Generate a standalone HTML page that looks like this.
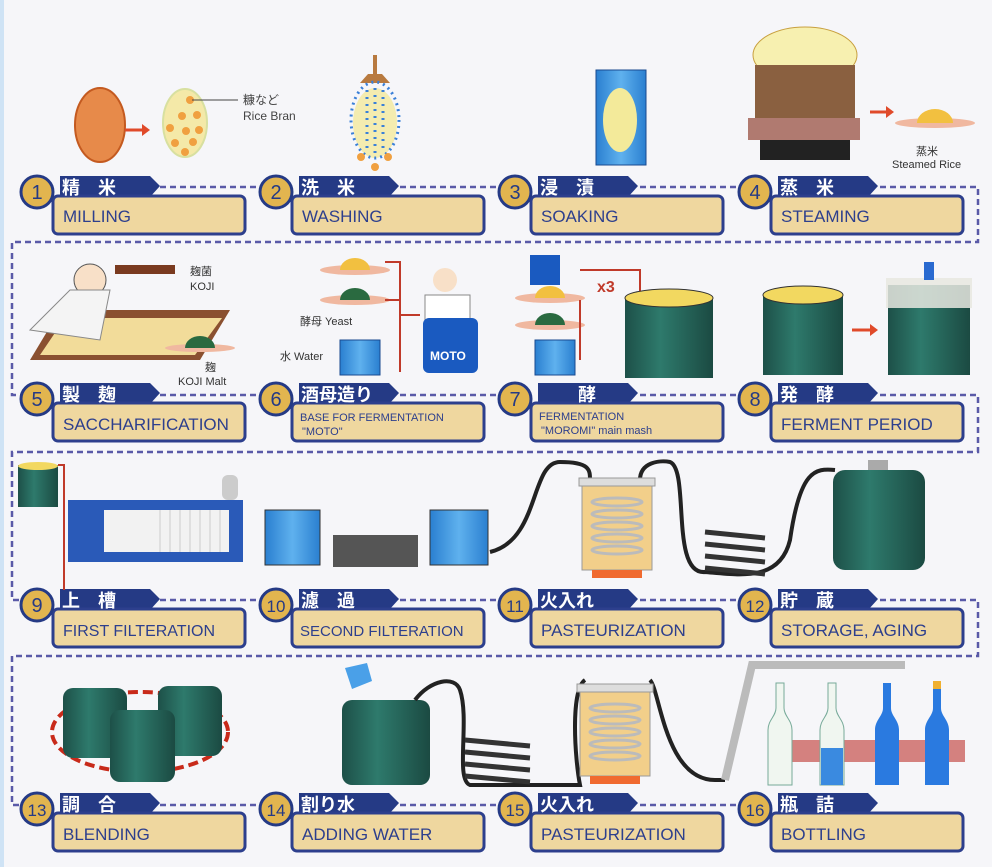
<!DOCTYPE html>
<html><head><meta charset="utf-8"><style>
html,body{margin:0;padding:0;background:#f6f6f9;}
svg{display:block}
text{font-family:"Liberation Sans","Noto Sans CJK JP",sans-serif;}
</style></head><body>
<svg width="992" height="867" viewBox="0 0 992 867" xmlns="http://www.w3.org/2000/svg">
<defs>
<linearGradient id="tank" x1="0" x2="1"><stop offset="0" stop-color="#1d5048"/><stop offset=".4" stop-color="#2e7a6c"/><stop offset="1" stop-color="#1b4a42"/></linearGradient>
<linearGradient id="water" x1="0" x2="1"><stop offset="0" stop-color="#2a7fd0"/><stop offset=".5" stop-color="#5fb1ee"/><stop offset="1" stop-color="#2a7fd0"/></linearGradient>
<g id="lbl">
<path d="M40 1 H130 L140 11 L130 22 H40 Z" fill="#253a85"/>
<rect x="33" y="21" width="192" height="38" rx="5" fill="#efd79f" stroke="#2d3f8d" stroke-width="3"/>
<circle cx="17" cy="17" r="16" fill="#e2b54f" stroke="#253a85" stroke-width="3"/>
</g>
<g id="past">
<rect x="0" y="0" width="70" height="88" fill="#f2cf8a" stroke="#999"/>
<rect x="-3" y="-4" width="76" height="8" fill="#ddd" stroke="#999"/>
<g fill="none" stroke="#bbb" stroke-width="3"><ellipse cx="35" cy="20" rx="25" ry="4"/><ellipse cx="35" cy="32" rx="25" ry="4"/><ellipse cx="35" cy="44" rx="25" ry="4"/><ellipse cx="35" cy="56" rx="25" ry="4"/><ellipse cx="35" cy="68" rx="25" ry="4"/></g>
<rect x="10" y="88" width="50" height="8" fill="#f06a30"/>
</g>
<g id="bottle"><path d="M0 80v-55c0-10 8-14 8-22v-25h8v25c0 8 8 12 8 22v55z"/></g>
</defs>
<rect x="0" y="0" width="4" height="867" fill="#cfe3f5"/>
<g fill="none" stroke="#5a5aa8" stroke-width="2.5" stroke-dasharray="6,4">
<path d="M160 187H262M400 187H500M640 187H740M880 187H978V242H12V395H22"/>
<path d="M160 395H262M400 395H500M640 395H740M880 395H978V452H12V600H22"/>
<path d="M160 600H262M400 600H500M640 600H740M880 600H978V656H12V805H22"/>
<path d="M160 805H262M400 805H500M640 805H740"/>
</g>
<g>
<use href="#lbl" x="20" y="175"/><use href="#lbl" x="259" y="175"/><use href="#lbl" x="498" y="175"/><use href="#lbl" x="738" y="175"/>
<use href="#lbl" x="20" y="382"/><use href="#lbl" x="259" y="382"/><use href="#lbl" x="498" y="382"/><use href="#lbl" x="738" y="382"/>
<use href="#lbl" x="20" y="588"/><use href="#lbl" x="259" y="588"/><use href="#lbl" x="498" y="588"/><use href="#lbl" x="738" y="588"/>
<use href="#lbl" x="20" y="792"/><use href="#lbl" x="259" y="792"/><use href="#lbl" x="498" y="792"/><use href="#lbl" x="738" y="792"/>
</g>
<g font-size="20" fill="#253a85" text-anchor="middle">
<text x="37" y="199">1</text><text x="276" y="199">2</text><text x="515" y="199">3</text><text x="755" y="199">4</text>
<text x="37" y="406">5</text><text x="276" y="406">6</text><text x="515" y="406">7</text><text x="755" y="406">8</text>
<text x="37" y="612">9</text><text x="276" y="612" font-size="17">10</text><text x="515" y="612" font-size="17">11</text><text x="755" y="612" font-size="17">12</text>
<text x="37" y="816" font-size="17">13</text><text x="276" y="816" font-size="17">14</text><text x="515" y="816" font-size="17">15</text><text x="755" y="816" font-size="17">16</text>
</g>
<g font-size="18" fill="#fff" font-weight="bold">
<text x="62" y="194">精　米</text><text x="301" y="194">洗　米</text><text x="540" y="194">浸　漬</text><text x="780" y="194">蒸　米</text>
<text x="62" y="401">製　麹</text><text x="301" y="401">酒母造り</text><text x="560" y="401">　酵</text><text x="780" y="401">発　酵</text>
<text x="62" y="607">上　槽</text><text x="301" y="607">濾　過</text><text x="540" y="607">火入れ</text><text x="780" y="607">貯　蔵</text>
<text x="62" y="811">調　合</text><text x="301" y="811">割り水</text><text x="540" y="811">火入れ</text><text x="780" y="811">瓶　詰</text>
</g>
<g font-size="17" fill="#2d3f8d">
<text x="63" y="222">MILLING</text><text x="302" y="222">WASHING</text><text x="541" y="222">SOAKING</text><text x="781" y="222">STEAMING</text>
<text x="63" y="430">SACCHARIFICATION</text>
<text x="300" y="421" font-size="11">BASE FOR FERMENTATION</text><text x="302" y="435" font-size="11">"MOTO"</text>
<text x="539" y="420" font-size="11">FERMENTATION</text><text x="541" y="434" font-size="11">"MOROMI" main mash</text>
<text x="781" y="430">FERMENT PERIOD</text>
<text x="63" y="636" font-size="16">FIRST FILTERATION</text><text x="300" y="636" font-size="15">SECOND FILTERATION</text><text x="541" y="636">PASTEURIZATION</text><text x="781" y="636">STORAGE, AGING</text>
<text x="63" y="840">BLENDING</text><text x="302" y="840">ADDING WATER</text><text x="541" y="840">PASTEURIZATION</text><text x="781" y="840">BOTTLING</text>
</g>
<!-- row1 -->
<ellipse cx="100" cy="125" rx="25" ry="37" fill="#e78a4a" stroke="#c45a20" stroke-width="2"/>
<path d="M125 130h18" stroke="#e04a2a" stroke-width="3"/><path d="M142 124l8 6-8 6z" fill="#e04a2a"/>
<ellipse cx="185" cy="123" rx="22" ry="34" fill="#f4e9a8" stroke="#d8e0a0" stroke-width="2"/>
<g fill="#f0a040"><circle cx="190" cy="100" r="4"/><circle cx="182" cy="116" r="4"/><circle cx="197" cy="115" r="4"/><circle cx="170" cy="128" r="4"/><circle cx="186" cy="131" r="4"/><circle cx="199" cy="130" r="4"/><circle cx="175" cy="143" r="4"/><circle cx="193" cy="142" r="4"/><circle cx="185" cy="152" r="4"/></g>
<path d="M192 100H238" stroke="#444" stroke-width="1"/>
<text x="243" y="104" font-size="12" fill="#444">糠など</text><text x="243" y="120" font-size="12" fill="#444">Rice Bran</text>
<rect x="373" y="55" width="4" height="20" fill="#b87a40"/><path d="M360 83l8-9h14l8 9z" fill="#b87a40"/>
<ellipse cx="375" cy="123" rx="22" ry="35" fill="#f4ecb0"/>
<ellipse cx="375" cy="120" rx="24" ry="38" fill="none" stroke="#3a80d8" stroke-width="3" stroke-dasharray="2,4"/>
<g stroke="#3a80d8" stroke-width="3" stroke-dasharray="2,5"><path d="M367 90v60M375 88v65M383 90v60"/></g>
<g fill="#f0a040"><circle cx="361" cy="157" r="4"/><circle cx="388" cy="157" r="4"/><circle cx="375" cy="167" r="4"/></g>
<rect x="596" y="70" width="50" height="95" fill="url(#water)" stroke="#1a4a90"/>
<ellipse cx="620" cy="120" rx="17" ry="32" fill="#f3ea9a"/>
<ellipse cx="805" cy="55" rx="52" ry="28" fill="#f7f0b0" stroke="#c8a040"/>
<rect x="755" y="65" width="100" height="55" fill="#8a6040"/>
<rect x="748" y="118" width="112" height="22" fill="#b07a70"/>
<rect x="760" y="140" width="90" height="20" fill="#222"/>
<path d="M870 112h16" stroke="#e04a2a" stroke-width="3"/><path d="M886 106l8 6-8 6z" fill="#e04a2a"/>
<ellipse cx="935" cy="123" rx="40" ry="5" fill="#f0b8a0"/><path d="M917 123a18 14 0 0 1 36 0z" fill="#f2c040"/>
<text x="916" y="155" font-size="11" fill="#333">蒸米</text><text x="892" y="168" font-size="11" fill="#333">Steamed Rice</text>
<!-- row2 -->
<path d="M30 360L60 310H230L200 360Z" fill="#8a5030"/><path d="M40 355L65 318H222L195 355Z" fill="#f2dc9a"/>
<circle cx="90" cy="280" r="16" fill="#f8e0c8" stroke="#555"/><path d="M30 330L70 290H110L100 340Z" fill="#f4f4f4" stroke="#888"/>
<rect x="115" y="265" width="60" height="9" fill="#7a3a20"/>
<text x="190" y="275" font-size="11" fill="#333">麹菌</text><text x="190" y="290" font-size="11" fill="#333">KOJI</text>
<ellipse cx="200" cy="348" rx="35" ry="4" fill="#f0b8a0"/><path d="M185 348a15 12 0 0 1 30 0z" fill="#2a6a40"/>
<text x="205" y="371" font-size="11" fill="#333">麹</text><text x="178" y="385" font-size="11" fill="#333">KOJI Malt</text>
<ellipse cx="355" cy="270" rx="35" ry="5" fill="#f0b8a0"/><path d="M340 270a15 12 0 0 1 30 0z" fill="#f2c040"/>
<ellipse cx="355" cy="300" rx="35" ry="5" fill="#f0b8a0"/><path d="M340 300a15 12 0 0 1 30 0z" fill="#2a6a40"/>
<path d="M385 262h15v110M385 300h15M400 315h20" fill="none" stroke="#c03a2a" stroke-width="2"/>
<text x="300" y="325" font-size="11" fill="#333">酵母 Yeast</text><text x="280" y="360" font-size="11" fill="#333">水 Water</text>
<rect x="340" y="340" width="40" height="35" fill="url(#water)" stroke="#1a4a90"/>
<circle cx="445" cy="280" r="12" fill="#f8e0c8"/><path d="M425 295h45v30h-45z" fill="#fff" stroke="#888"/>
<rect x="423" y="318" width="55" height="55" rx="6" fill="#1a5ac0"/><text x="430" y="360" font-size="12" fill="#fff" font-weight="bold">MOTO</text>
<rect x="530" y="255" width="30" height="30" fill="#1a5ac0"/>
<ellipse cx="550" cy="298" rx="35" ry="5" fill="#f0b8a0"/><path d="M535 298a15 12 0 0 1 30 0z" fill="#f2c040"/>
<ellipse cx="550" cy="325" rx="35" ry="5" fill="#f0b8a0"/><path d="M535 325a15 12 0 0 1 30 0z" fill="#2a6a40"/>
<rect x="535" y="340" width="40" height="35" fill="url(#water)" stroke="#1a4a90"/>
<text x="597" y="292" font-size="16" font-weight="bold" fill="#c03a2a">x3</text>
<path d="M580 270h60v30M580 300v60" fill="none" stroke="#c03a2a" stroke-width="2"/>
<rect x="625" y="298" width="88" height="80" fill="url(#tank)"/><ellipse cx="669" cy="298" rx="44" ry="9" fill="#f2d860" stroke="#333"/>
<rect x="763" y="295" width="80" height="80" fill="url(#tank)"/><ellipse cx="803" cy="295" rx="40" ry="9" fill="#f2d860" stroke="#333"/>
<path d="M852 330h18" stroke="#e04a2a" stroke-width="3"/><path d="M870 324l8 6-8 6z" fill="#e04a2a"/>
<rect x="888" y="285" width="82" height="90" fill="url(#tank)"/><rect x="886" y="278" width="86" height="30" fill="#e8e8e0" opacity=".85"/>
<rect x="924" y="262" width="10" height="18" fill="#2a6ad0"/>
<!-- row3 -->
<rect x="18" y="465" width="40" height="42" fill="url(#tank)"/><ellipse cx="38" cy="466" rx="20" ry="4" fill="#f2d860"/><path d="M58 465h6v125" fill="none" stroke="#c03a2a" stroke-width="2"/>
<rect x="68" y="500" width="175" height="62" fill="#2a5ab8"/><rect x="104" y="510" width="125" height="42" fill="#f2f2f2"/>
<g stroke="#ccc"><path d="M160 510v42M170 510v42M180 510v42M190 510v42M200 510v42M210 510v42M220 510v42"/></g>
<rect x="222" y="475" width="16" height="25" rx="6" fill="#ccc"/>
<rect x="265" y="510" width="55" height="55" fill="url(#water)" stroke="#333"/>
<rect x="333" y="535" width="85" height="32" fill="#555"/>
<rect x="430" y="510" width="58" height="55" fill="url(#water)" stroke="#333"/>
<path d="M490 552C540 540 530 462 560 462C590 462 590 470 590 480M640 480C640 462 660 460 670 462C690 470 670 575 705 572C740 575 780 582 790 540C800 470 815 468 835 470" fill="none" stroke="#222" stroke-width="4"/>
<use href="#past" x="582" y="482"/>
<g stroke="#333" stroke-width="5"><path d="M705 532l60 6M705 544l60 6M705 556l60 6M705 568l60 6"/></g>
<rect x="833" y="470" width="92" height="100" rx="12" fill="url(#tank)"/><rect x="868" y="460" width="20" height="10" fill="#aaa"/>
<!-- row4 -->
<ellipse cx="140" cy="732" rx="88" ry="40" fill="none" stroke="#c82a1a" stroke-width="4" stroke-dasharray="10,5"/>
<rect x="63" y="688" width="64" height="70" rx="10" fill="url(#tank)"/>
<rect x="158" y="686" width="64" height="70" rx="10" fill="url(#tank)"/>
<rect x="110" y="710" width="65" height="72" rx="10" fill="url(#tank)"/>
<rect x="342" y="700" width="88" height="85" rx="10" fill="url(#tank)"/>
<path d="M345 668l22-5 5 18-20 8z" fill="#4aa0e8"/>
<path d="M415 700C430 680 455 675 460 690C470 720 455 780 470 785H580C575 760 570 690 585 680M650 680C660 690 665 780 715 780L725 780" fill="none" stroke="#222" stroke-width="4"/>
<g stroke="#333" stroke-width="5"><path d="M465 740l65 6M465 752l65 6M465 764l65 6M465 776l65 6"/></g>
<use href="#past" x="580" y="688"/>
<path d="M725 780L752 665H905" fill="none" stroke="#bbb" stroke-width="8"/>
<rect x="785" y="740" width="180" height="22" fill="#c85a55" opacity=".75"/>
<use href="#bottle" x="768" y="705" fill="#f0f6f0" stroke="#7a9"/>
<use href="#bottle" x="820" y="705" fill="#f0f6f0" stroke="#7a9"/>
<rect x="821" y="748" width="22" height="37" fill="#3a8ae0"/>
<use href="#bottle" x="875" y="705" fill="#2a7ae0"/>
<use href="#bottle" x="925" y="705" fill="#2a7ae0"/>
<rect x="933" y="681" width="8" height="8" fill="#f0b030"/>
</svg>
</body></html>
